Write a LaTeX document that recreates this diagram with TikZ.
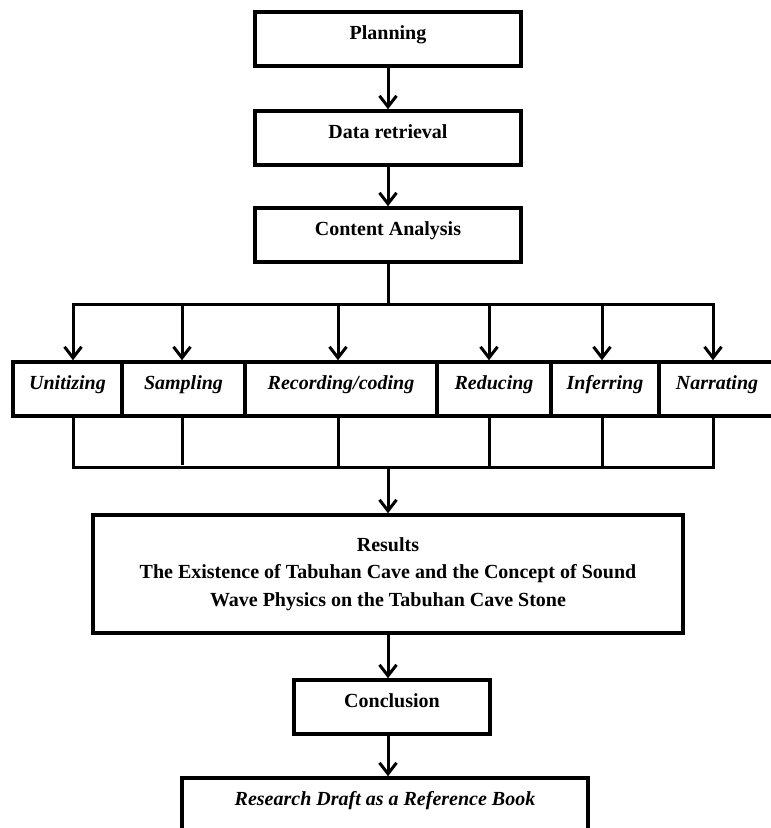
\documentclass[tikz,border=0pt]{standalone}
\usepackage{fontspec}
\setmainfont{Liberation Serif}
\usetikzlibrary{arrows.meta,positioning}

\begin{document}
\begin{tikzpicture}[x=1pt, y=1pt,
            every node/.style={font=\fontsize{20}{27.5}\selectfont\bfseries},
            box/.style={draw, line width=3.5pt, minimum height=54pt, text height=11pt, text depth=11pt},
            unitbox/.style={box, font=\fontsize{20}{27.5}\selectfont\bfseries\itshape},
            bigbox/.style={draw, line width=3.5pt, align=center},
            arr/.style={line width=3pt, -{Straight Barb[length=11pt,width=17pt]}},
            bus/.style={line width=3pt, line cap=rect}]
        \useasboundingbox (0,0) rectangle (771,-828);
        % main steps
        \node[box, minimum width=266pt] (plan) at (388,-39) {Planning};
        \node[box, minimum width=266pt] (retr) at (388,-138) {Data retrieval};
        \node[box, minimum width=266pt] (anal) at (388,-235) {Content Analysis};
        % analysis steps
        \node[unitbox, minimum width=109pt] (unit) at (67.5,-389) {Unitizing};
        \node[unitbox, minimum width=123pt] (samp) at (183.5,-389) {Sampling};
        \node[unitbox, minimum width=192pt] (rec) at (341,-389) {Recording/coding};
        \node[unitbox, minimum width=114pt] (red) at (494,-389) {Reducing};
        \node[unitbox, minimum width=108pt] (inf) at (605,-389) {Inferring};
        \node[unitbox, minimum width=116pt] (narr) at (717,-389) {Narrating};
        % outcome
        \node[bigbox, minimum width=590pt, minimum height=118pt] (results) at (388,-574)
            {Results\\The Existence of Tabuhan Cave and the Concept of Sound\\Wave Physics on the Tabuhan Cave Stone};
        \node[box, minimum width=196pt] (concl) at (392,-707) {Conclusion};
        \node[box, font=\fontsize{20}{27.5}\selectfont\bfseries\itshape, minimum width=406pt] (draft) at (385,-805)
            {Research Draft as a Reference Book};

        \draw[arr] (plan) -- (retr);
        \draw[arr] (retr) -- (anal);
        \foreach \n/\x/\e [count=\i] in {unit/73/467, samp/182/463, rec/338/467, red/489/467, inf/602/467, narr/713/467} {
            \coordinate (b\i) at (\x,-304);
            \coordinate (c\i) at (\x,-\e);
            \draw[arr] (b\i) -- (b\i |- \n.north);
            \draw[bus] (b\i |- \n.south) -- (c\i);
        }
        \draw[bus] (anal.south) -- (anal.south |- b1);
        \draw[bus] (b1) -- (b6);
        \draw[bus] (c1) -- (c6 |- c1);
        \draw[arr] (anal.south |- c1) -- (results);
        \draw[arr] (results.south) -- (results.south |- concl.north);
        \draw[arr] (concl.south -| results.south) -- (results.south |- draft.north);
\end{tikzpicture}
\end{document}
